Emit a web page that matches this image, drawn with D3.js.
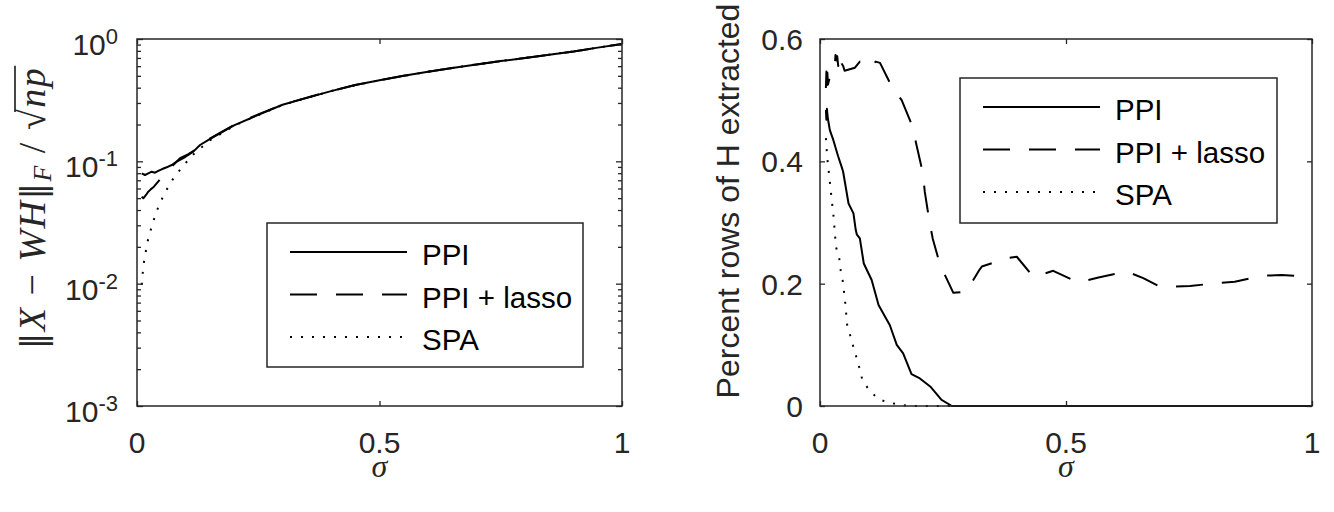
<!DOCTYPE html>
<html><head><meta charset="utf-8">
<script src="https://cdn.jsdelivr.net/npm/d3@7"></script>
<style>body{margin:0;background:#fff}svg{display:block}</style>
</head><body>
<svg id="c" width="1334" height="512"></svg>
<script>
// ---------- DATA ----------
const seriesNames = ["PPI", "PPI + lasso", "SPA"];
const xTicks = [0, 0.5, 1];
const xTickLabels = ["0", "0.5", "1"];
const leftYTicks = [1e-3, 1e-2, 1e-1, 1];
const leftYExps = ["-3", "-2", "-1", "0"];
const rightYTicks = [0, 0.2, 0.4, 0.6];
const rightYTickLabels = ["0", "0.2", "0.4", "0.6"];

// Left panel: ||X - WH||_F / sqrt(np)
const errPPI_sigma = [0.0097,0.0165,0.0233,0.0303,0.0371,0.0439,0.0509,0.0612,0.0715,0.0819,0.0955,0.116,0.13,0.15,0.2,0.25,0.3,0.35,0.4,0.45,0.5,0.55,0.6,0.65,0.7,0.75,0.8,0.85,0.9,0.95,1.0];
const errPPI = [0.0798,0.0773,0.0798,0.0823,0.0807,0.0834,0.0861,0.0894,0.0933,0.0993,0.106,0.12,0.136,0.152,0.197,0.24,0.29,0.33,0.375,0.42,0.46,0.50,0.54,0.58,0.62,0.66,0.70,0.745,0.79,0.85,0.91];
const errLasso_sigma = [0.0097,0.013,0.0186,0.0233,0.0282,0.0336,0.0577,0.0748,0.0887,0.105,0.116,0.13,0.15,0.2,0.25,0.3,0.35,0.4,0.45,0.5,0.55,0.6,0.65,0.7,0.75,0.8,0.85,0.9,0.95,1.0];
const errLasso = [0.0514,0.0499,0.0531,0.0565,0.059,0.0613,0.0798,0.0933,0.106,0.114,0.121,0.137,0.153,0.198,0.242,0.291,0.331,0.376,0.42,0.46,0.50,0.54,0.58,0.62,0.66,0.70,0.745,0.79,0.85,0.91];
const errSPA_sigma = [0.0097,0.0118,0.0144,0.0186,0.0233,0.0303,0.0371,0.046,0.0563,0.068,0.0819,0.0969,0.113,0.131,0.15,0.2,0.25,0.3,0.35,0.4,0.45,0.5,0.55,0.6,0.65,0.7,0.75,0.8,0.85,0.9,0.95,1.0];
const errSPA = [0.0098,0.0122,0.0151,0.0188,0.0235,0.0292,0.0357,0.0446,0.0537,0.0661,0.0788,0.0933,0.111,0.128,0.148,0.195,0.239,0.289,0.33,0.375,0.42,0.46,0.50,0.54,0.58,0.62,0.66,0.70,0.745,0.79,0.85,0.91];

// Right panel: percent rows of H extracted
const pctPPI_sigma = [0.012,0.013,0.014,0.016,0.020,0.027,0.037,0.044,0.047,0.058,0.068,0.0726,0.075,0.081,0.089,0.105,0.119,0.142,0.156,0.169,0.186,0.203,0.224,0.247,0.268,0.3,0.5,0.75,1.0];
const pctPPI = [0.484,0.468,0.486,0.47,0.451,0.435,0.408,0.391,0.383,0.331,0.315,0.288,0.280,0.274,0.233,0.206,0.165,0.132,0.100,0.086,0.052,0.045,0.032,0.010,0,0,0,0,0];
const pctLasso_sigma = [0.012,0.013,0.014,0.015,0.016,0.024,0.030,0.0315,0.033,0.035,0.037,0.040,0.042,0.044,0.047,0.050,0.071,0.081,0.093,0.105,0.113,0.122,0.146,0.166,0.188,0.196,0.209,0.213,0.222,0.229,0.244,0.261,0.271,0.298,0.302,0.322,0.329,0.359,0.372,0.40,0.434,0.474,0.525,0.566,0.623,0.657,0.691,0.711,0.752,0.806,0.843,0.90,0.938,1.0];
const pctLasso = [0.52,0.547,0.515,0.545,0.525,0.55,0.556,0.574,0.565,0.572,0.556,0.56,0.574,0.560,0.556,0.548,0.553,0.563,0.557,0.553,0.563,0.561,0.522,0.500,0.457,0.427,0.381,0.350,0.304,0.274,0.231,0.202,0.185,0.187,0.193,0.220,0.228,0.236,0.241,0.244,0.211,0.221,0.202,0.210,0.220,0.209,0.195,0.195,0.196,0.201,0.203,0.213,0.214,0.211];
const pctSPA_sigma = [0.012,0.0148,0.0189,0.0238,0.027,0.0305,0.0325,0.0392,0.042,0.046,0.0508,0.0555,0.0624,0.0677,0.0746,0.0813,0.0868,0.1016,0.1185,0.139,0.161,0.183,0.3,0.5,0.75,1.0];
const pctSPA = [0.438,0.405,0.375,0.337,0.315,0.280,0.260,0.241,0.222,0.206,0.173,0.130,0.113,0.097,0.078,0.059,0.040,0.025,0.011,0.006,0.002,0,0,0,0,0];

// ---------- DRAW ----------
const svg = d3.select("#c");
const AX = "#262626";
const TICKFONT = "'Liberation Sans', Arial, sans-serif";
const SERIF = "'Liberation Serif', 'DejaVu Serif', serif";
const styles = [
  {dash: null},
  {dash: "27 19"},
  {dash: "2 9"}
];

function panel(opts) {
  const {x, y, series, legend, logY} = opts;
  const [x0, x1] = x.range();
  const [y0, y1] = y.range(); // y0 bottom, y1 top
  const g = svg.append("g");
  const line = d3.line().x(d => x(d[0])).y(d => y(d[1]));
  series.forEach((s, i) => {
    const pts = s.sig.map((v, k) => [v, s.val[k]]);
    g.append("path").attr("d", line(pts)).attr("fill", "none")
      .attr("stroke", "#000").attr("stroke-width", 2)
      .attr("stroke-linejoin", "round")
      .attr("stroke-dasharray", styles[i].dash);
  });
  g.append("g").attr("transform", `translate(0,${y0})`)
    .call(d3.axisBottom(x).tickValues(xTicks).tickSize(-5).tickFormat(""));
  g.append("g").attr("transform", `translate(0,${y1})`)
    .call(d3.axisTop(x).tickValues(xTicks).tickSize(-5).tickFormat(""));
  let yAxL, yAxR;
  if (logY) {
    const minor = [];
    [1e-3, 1e-2, 1e-1].forEach(dec => { for (let m = 2; m <= 9; m++) minor.push(dec * m); });
    g.append("g").attr("transform", `translate(${x0},0)`)
      .call(d3.axisLeft(y).tickValues(minor).tickSize(-4).tickFormat(""));
    g.append("g").attr("transform", `translate(${x1},0)`)
      .call(d3.axisRight(y).tickValues(minor).tickSize(-4).tickFormat(""));
    yAxL = d3.axisLeft(y).tickValues(leftYTicks).tickSize(-6).tickFormat("");
    yAxR = d3.axisRight(y).tickValues(leftYTicks).tickSize(-6).tickFormat("");
  } else {
    yAxL = d3.axisLeft(y).tickValues(rightYTicks).tickSize(-5).tickFormat("");
    yAxR = d3.axisRight(y).tickValues(rightYTicks).tickSize(-5).tickFormat("");
  }
  g.append("g").attr("transform", `translate(${x0},0)`).call(yAxL);
  g.append("g").attr("transform", `translate(${x1},0)`).call(yAxR);
  g.selectAll(".domain").remove();
  g.selectAll(".tick line").attr("stroke", AX).attr("stroke-width", 1.3);
  g.append("rect").attr("x", x0).attr("y", y1).attr("width", x1 - x0).attr("height", y0 - y1)
    .attr("fill", "none").attr("stroke", AX).attr("stroke-width", 1.5);
  xTicks.forEach((t, i) => {
    g.append("text").attr("x", x(t)).attr("y", y0 + 47).attr("text-anchor", "middle")
      .attr("font-family", TICKFONT).attr("font-size", 30).attr("fill", AX).text(xTickLabels[i]);
  });
  if (logY) {
    leftYTicks.forEach((t, i) => {
      const tx = g.append("text").attr("x", x0 - 19).attr("y", y(t) + 16).attr("text-anchor", "end")
        .attr("font-family", TICKFONT).attr("font-size", 30).attr("fill", AX);
      tx.append("tspan").text("10");
      tx.append("tspan").attr("font-size", 22).attr("dy", -11).text(leftYExps[i]);
    });
  } else {
    rightYTicks.forEach((t, i) => {
      g.append("text").attr("x", x0 - 17).attr("y", y(t) + 11).attr("text-anchor", "end")
        .attr("font-family", TICKFONT).attr("font-size", 30).attr("fill", AX).text(rightYTickLabels[i]);
    });
  }
  g.append("text").attr("x", (x0 + x1) / 2).attr("y", y0 + 71).attr("text-anchor", "middle")
    .attr("font-family", SERIF).attr("font-style", "italic")
    .attr("font-size", 32).attr("fill", AX).text("σ");
  const L = legend;
  const lg = g.append("g");
  lg.append("rect").attr("x", L.x).attr("y", L.y).attr("width", L.w).attr("height", L.h)
    .attr("fill", "#fff").attr("stroke", AX).attr("stroke-width", 1.5);
  seriesNames.forEach((name, i) => {
    const yy = L.y + 29 + i * 42.5;
    lg.append("line").attr("x1", L.x + 23).attr("x2", L.x + 140).attr("y1", yy).attr("y2", yy)
      .attr("stroke", "#000").attr("stroke-width", 2).attr("stroke-dasharray", styles[i].dash);
    lg.append("text").attr("x", L.x + 155).attr("y", yy + 13)
      .attr("font-family", TICKFONT).attr("font-size", 29.5).attr("fill", "#000").text(name);
  });
  return g;
}

const xL = d3.scaleLinear().domain([0, 1]).range([137, 622]);
const yL = d3.scaleLog().domain([1e-3, 1]).range([406, 39]);
panel({
  x: xL, y: yL, logY: true,
  series: [
    {sig: errPPI_sigma, val: errPPI},
    {sig: errLasso_sigma, val: errLasso},
    {sig: errSPA_sigma, val: errSPA}
  ],
  legend: {x: 267, y: 223, w: 316, h: 144}
});

const xR = d3.scaleLinear().domain([0, 1]).range([820, 1312]);
const yR = d3.scaleLinear().domain([0, 0.6]).range([406, 39]);
panel({
  x: xR, y: yR, logY: false,
  series: [
    {sig: pctPPI_sigma, val: pctPPI},
    {sig: pctLasso_sigma, val: pctLasso},
    {sig: pctSPA_sigma, val: pctSPA}
  ],
  legend: {x: 960, y: 78, w: 317, h: 145}
});

// right y label
svg.append("text").attr("transform", "translate(739,201) rotate(-90)").attr("text-anchor", "middle")
  .attr("font-family", TICKFONT).attr("font-size", 32).attr("fill", AX).text("Percent rows of H extracted");

// left y label (math)
const ylab = svg.append("g").attr("transform", "translate(45,208) rotate(-90)");
const t = ylab.append("text").attr("font-family", SERIF).attr("font-size", 38)
  .attr("letter-spacing", 1.5).attr("fill", AX);
t.append("tspan").attr("font-family", "'DejaVu Sans', sans-serif").attr("font-size", 33).text("‖");
t.append("tspan").attr("font-style", "italic").text("X");
t.append("tspan").text(" − ");
t.append("tspan").attr("font-style", "italic").text("WH");
t.append("tspan").attr("font-family", "'DejaVu Sans', sans-serif").attr("font-size", 33).text("‖");
t.append("tspan").attr("font-style", "italic").attr("font-size", 26).attr("dy", 6).text("F");
t.append("tspan").attr("dy", -6).text(" / ");
t.append("tspan").text("√");
t.append("tspan").attr("font-style", "italic").text("np");
const node = t.node();
const total = node.getComputedTextLength();
t.attr("x", -total / 2);
const n = node.getNumberOfChars();
const sx = node.getStartPositionOfChar(n - 3).x;
const ex = node.getEndPositionOfChar(n - 1).x;
ylab.append("line").attr("x1", sx + 18).attr("x2", ex + 1).attr("y1", -30).attr("y2", -30)
  .attr("stroke", AX).attr("stroke-width", 1.7);
</script>
</body></html>
